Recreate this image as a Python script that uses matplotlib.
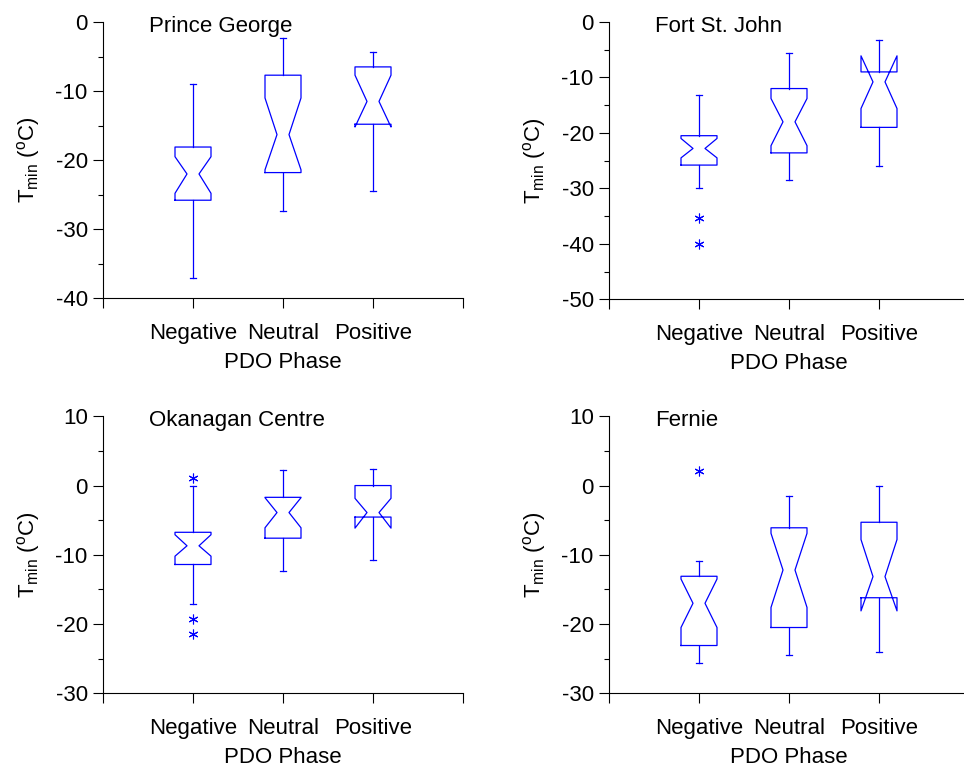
import matplotlib
matplotlib.use("Agg")
import matplotlib.pyplot as plt
from matplotlib.ticker import MultipleLocator

plt.rcParams['font.family'] = ['Liberation Sans', 'DejaVu Sans']
plt.rcParams['mathtext.fontset'] = 'custom'
plt.rcParams['mathtext.rm'] = 'Liberation Sans'
plt.rcParams['mathtext.it'] = 'Liberation Sans:italic'
plt.rcParams['axes.unicode_minus'] = False

phases = ["Negative", "Neutral", "Positive"]
stations = ["Prince George", "Fort St. John", "Okanagan Centre", "Fernie"]

# per station: one value per phase (Negative, Neutral, Positive)
whislo = [[-37.0, -27.4, -24.4], [-30.0, -28.4, -26.0],
          [-17.1, -12.3, -10.75], [-25.6, -24.5, -24.1]]
q1 = [[-25.8, -21.8, -14.8], [-25.8, -23.6, -19.0],
      [-11.4, -7.6, -4.55], [-23.1, -20.5, -16.2]]
cilo = [[-24.8, -21.4, -15.2], [-24.5, -22.3, -15.6],
        [-10.2, -6.1, -6.15], [-20.5, -17.6, -18.1]]
med = [[-22.0, -16.3, -11.5], [-22.8, -18.0, -10.8],
       [-8.7, -3.9, -3.9], [-17.0, -12.2, -13.15]]
cihi = [[-19.5, -11.0, -7.7], [-21.0, -13.8, -6.1],
        [-7.1, -1.75, -1.85], [-13.5, -6.9, -7.8]]
q3 = [[-18.1, -7.7, -6.5], [-20.5, -12.0, -9.0],
      [-6.75, -1.7, 0.0], [-13.1, -6.1, -5.3]]
whishi = [[-9.0, -2.3, -4.3], [-13.1, -5.5, -3.3],
          [0.0, 2.2, 2.45], [-10.85, -1.5, 0.0]]
fliers = [[[], [], []], [[-35.3, -40.1], [], []],
          [[1.05, -19.2, -21.4], [], []], [[2.15], [], []]]

ylims = [(-40, 0), (-50, 0), (-30, 10), (-30, 10)]

fig = plt.figure(figsize=(9.64, 7.69), dpi=100)
W, H = 964, 769
positions = [(103, 22, 298.3), (609, 22, 299.3), (103, 416.3, 693.3), (609, 416.3, 693.3)]
aw = 360
col = "#0000ff"
hw = 0.2          # half box width
nw = hw / 3       # half width at notch waist
cw = 0.035        # half cap width

for k, name in enumerate(stations):
    left, top, bottom = positions[k]
    ax = fig.add_axes([left / W, 1 - bottom / H, aw / W, (bottom - top) / H])
    for i in range(3):
        x = i + 1
        xs = [x - hw, x - hw, x - nw, x - hw, x - hw, x + hw, x + hw, x + nw, x + hw, x + hw, x - hw]
        ys = [q1[k][i], cilo[k][i], med[k][i], cihi[k][i], q3[k][i], q3[k][i],
              cihi[k][i], med[k][i], cilo[k][i], q1[k][i], q1[k][i]]
        ax.plot(xs, ys, color=col, lw=0.9, clip_on=False)
        ax.plot([x, x], [q1[k][i], whislo[k][i]], color=col, lw=0.9)
        ax.plot([x, x], [q3[k][i], whishi[k][i]], color=col, lw=0.9)
        ax.plot([x - cw, x + cw], [whislo[k][i]] * 2, color=col, lw=0.9)
        ax.plot([x - cw, x + cw], [whishi[k][i]] * 2, color=col, lw=0.9)
        if fliers[k][i]:
            ax.plot([x] * len(fliers[k][i]), fliers[k][i], ls='none',
                    marker=(6, 2, 0), ms=7, mew=0.8, color=col)
    ax.set_xlim(0, 4)
    ax.set_ylim(*ylims[k])
    ax.set_xticks([0, 1, 2, 3, 4])
    ax.set_xticklabels([""] + phases + [""])
    ax.yaxis.set_major_locator(MultipleLocator(10))
    ax.yaxis.set_minor_locator(MultipleLocator(5))
    ax.spines['top'].set_visible(False)
    ax.spines['right'].set_visible(False)
    ax.spines['left'].set_linewidth(0.8)
    ax.spines['bottom'].set_linewidth(0.8)
    ax.tick_params(axis='x', length=7.5, width=0.8, pad=10.5, labelsize=16)
    ax.tick_params(axis='y', which='major', length=7, width=0.8, pad=4, labelsize=16)
    ax.tick_params(axis='y', which='minor', length=3.5, width=0.8)
    ax.set_xlabel("PDO Phase", fontsize=16, va='top')
    ax.xaxis.set_label_coords(0.5, -0.195)
    ax.set_ylabel(r'T$_{\mathrm{min}}$ ($^{\mathrm{o}}$C)', fontsize=16)
    ax.yaxis.set_label_coords(-0.17, 0.5)
    ax.text(0.128, 0.985, name, transform=ax.transAxes, fontsize=16, va='center', ha='left')

fig.savefig("out.png", dpi=100)
